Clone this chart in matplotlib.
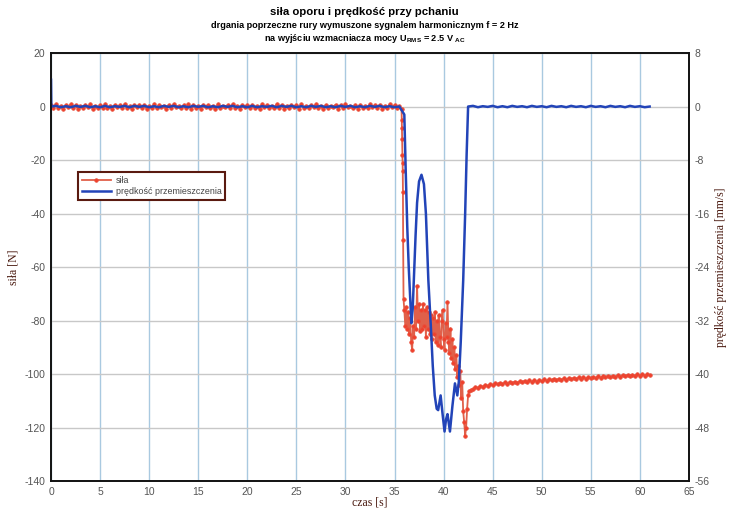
import numpy as np
import matplotlib
matplotlib.use("Agg")
import matplotlib.pyplot as plt

# --- data ---
# sila [N], flat part 0 .. 35.5 s every 0.25 s
sila_flat_t = np.arange(0, 35.75, 0.25)
sila_flat = [0.6, -0.4, 0.9, -0.7, 0.3, -0.8, 0.5, -0.2, 0.8, -0.6, 0.4, -0.9,
             0.2, -0.5, 0.7, -0.3, 0.9, -0.8, 0.1, -0.6, 0.5, -0.4, 0.8, -0.7,
             0.3, -0.9, 0.6, -0.2, 0.4, -0.7, 0.9, -0.5, 0.2, -0.8, 0.6, -0.3,
             0.7, -0.6, 0.4, -0.9, 0.1, -0.4, 0.8, -0.7, 0.5, -0.2, 0.3, -0.8,
             0.6, -0.5, 0.9, -0.3, 0.2, -0.7, 0.4, -0.6, 0.8, -0.9, 0.5, -0.4,
             0.1, -0.8, 0.7, -0.2, 0.6, -0.5, 0.3, -0.9, 0.8, -0.6, 0.2, -0.3,
             0.5, -0.7, 0.9, -0.4, 0.3, -0.8, 0.6, -0.1, 0.4, -0.6, 0.7, -0.5,
             0.2, -0.9, 0.8, -0.3, 0.5, -0.7, 0.1, -0.5, 0.9, -0.4, 0.6, -0.8,
             0.3, -0.6, 0.7, -0.2, 0.4, -0.9, 0.8, -0.5, 0.2, -0.7, 0.5, -0.3,
             0.9, -0.4, 0.1, -0.8, 0.6, -0.6, 0.3, -0.2, 0.7, -0.9, 0.4, -0.5,
             0.8, -0.3, 0.2, -0.7, 0.5, -0.8, 0.6, -0.4, 0.1, -0.6, 0.9, -0.2,
             0.4, -0.5, 0.7, -0.9, 0.3, -0.6, 0.8, -0.3, 0.5, -0.7, 0.2]
# drop and turbulent part
sila_mid_t = [35.72, 35.74, 35.76, 35.78, 35.80, 35.82, 35.84, 35.86, 35.88, 35.92,
              36.0, 36.1, 36.2, 36.3, 36.4, 36.5, 36.6, 36.7, 36.8, 36.9,
              37.0, 37.1, 37.2, 37.3, 37.4, 37.5, 37.6, 37.7, 37.8, 37.9,
              38.0, 38.1, 38.2, 38.3, 38.4, 38.5, 38.6, 38.7, 38.8, 38.9,
              39.0, 39.1, 39.2, 39.3, 39.4, 39.5, 39.6, 39.7, 39.8, 39.9,
              40.0, 40.1, 40.2, 40.3, 40.4, 40.5, 40.6, 40.7, 40.8, 40.9,
              41.0, 41.1, 41.2, 41.3, 41.4, 41.5, 41.6, 41.7, 41.8, 41.9,
              42.0, 42.1, 42.2, 42.3, 42.4, 42.5, 42.6, 42.8]
sila_mid = [-1, -5, -8, -12, -18, -21, -24, -32, -50, -72,
            -76, -82, -75, -83, -77, -85, -79, -88, -91, -82,
            -86, -75, -83, -67, -80, -74, -84, -76, -83, -74,
            -82, -76, -86, -75, -83, -77, -85, -78, -87, -79,
            -85, -77, -88, -80, -89, -78, -86, -90, -80, -76,
            -87, -91, -81, -86, -73, -88, -92, -83, -94, -87,
            -96, -90, -98, -93, -101, -97, -104, -99, -109, -103,
            -114, -118, -123, -120, -113, -108, -106.5, -106]
# slow recovery 43 .. 61 s every 0.25 s
sila_tail_t = np.arange(43, 61.25, 0.25)
sila_tail = [-105.6, -104.9, -105.1, -104.4, -104.7, -104.0, -104.4, -103.7, -104.1, -103.5, -103.9, -103.3,
             -103.8, -103.1, -103.6, -102.9, -103.4, -102.8, -103.3, -102.7, -103.1, -102.5, -103.0, -102.4,
             -102.9, -102.3, -102.8, -102.1, -102.7, -102.0, -102.5, -101.9, -102.4, -101.8, -102.3, -101.7,
             -102.2, -101.6, -102.1, -101.5, -102.0, -101.4, -101.9, -101.3, -101.8, -101.2, -101.7, -101.1,
             -101.6, -101.0, -101.5, -100.9, -101.4, -100.8, -101.3, -100.7, -101.2, -100.6, -101.1, -100.5,
             -101.0, -100.4, -100.9, -100.3, -100.8, -100.2, -100.7, -100.1, -100.6, -100.0, -100.6, -100.1,
             -100.4]

# predkosc [mm/s]
v_flat_t = np.arange(0.5, 36, 0.5)
v_flat = [0.1, -0.1, 0.05, -0.1, 0.1, -0.05, 0.1, -0.1, 0.05, -0.1, 0.1, -0.1,
          0.05, -0.05, 0.1, -0.1, 0.1, -0.05, 0.1, -0.1, 0.05, -0.1, 0.1, -0.05,
          0.1, -0.1, 0.05, -0.1, 0.1, -0.05, 0.1, -0.1, 0.05, -0.1, 0.1, -0.05,
          0.1, -0.1, 0.05, -0.1, 0.1, -0.1, 0.05, -0.05, 0.1, -0.1, 0.1, -0.05,
          0.1, -0.1, 0.05, -0.1, 0.1, -0.05, 0.1, -0.1, 0.05, -0.1, 0.1, -0.05,
          0.1, -0.1, 0.05, -0.1, 0.1, -0.05, 0.1, -0.1, 0.05, -0.1, 0.0]
v_mid_t = [36.0, 36.15, 36.3, 36.45, 36.6, 36.72, 36.85, 37.0, 37.15, 37.3, 37.5,
           37.75, 38.0, 38.2, 38.45, 38.7, 38.9, 39.1, 39.3, 39.45, 39.7, 39.9,
           40.1, 40.25, 40.4, 40.55, 40.65, 40.9, 41.16, 41.4, 41.55, 41.75,
           42.0, 42.2, 42.35, 42.5]
v_mid = [-1.2, -10.0, -18.0, -24.0, -28.8, -32.4, -30.4, -24.8, -19.2, -14.4, -11.2,
         -10.2, -11.6, -16.0, -26.0, -32.8, -38.8, -43.2, -45.2, -45.4, -43.2, -46.0,
         -48.6, -46.8, -46.0, -47.6, -48.6, -44.8, -41.4, -43.2, -41.2, -35.2,
         -26.0, -16.0, -7.2, 0.0]
v_tail_t = np.arange(43, 61.5, 0.5)
v_tail = [0.1, -0.1, 0.05, -0.05, 0.1, -0.1, 0.05, -0.1, 0.1, -0.05, 0.05, -0.1,
          0.1, -0.05, 0.05, -0.1, 0.1, -0.05, 0.05, -0.1, 0.1, -0.05, 0.05, -0.1,
          0.1, -0.05, 0.05, -0.1, 0.1, -0.05, 0.05, -0.1, 0.1, -0.05, 0.05, -0.1, 0.0]

x_ticks = list(range(0, 70, 5))
left_ticks = list(range(20, -160, -20))
right_ticks = list(range(8, -64, -8))

t_sila = np.concatenate([sila_flat_t, sila_mid_t, sila_tail_t])
sila = np.concatenate([sila_flat, sila_mid, sila_tail])
t_v = np.concatenate([[0.0, 0.03], v_flat_t, v_mid_t, v_tail_t])
v = np.concatenate([[4.0, 0.0], v_flat, v_mid, v_tail])

plt.rcParams['font.family'] = ['Liberation Sans', 'DejaVu Sans']
plt.rcParams['mathtext.default'] = 'regular'
plt.rcParams['axes.unicode_minus'] = False

fig = plt.figure(figsize=(7.29, 5.15), dpi=100)
ax1 = fig.add_axes([0.070, 0.066, 0.875, 0.831])
ax2 = ax1.twinx()

red_line, = ax1.plot(t_sila, sila, color='#e0604a', lw=1.3, marker='o', ms=2.6,
                     mfc='#f0402c', mec='#e8503c', mew=0.5, label='siła')
blue_line, = ax2.plot(t_v, v, color='#2244b8', lw=1.8, label='prędkość przemieszczenia')

ax1.set_xlim(0, 65)
ax1.set_ylim(-140, 20)
ax2.set_ylim(-56, 8)
ax1.set_xticks(x_ticks)
ax1.set_yticks(left_ticks)
ax2.set_yticks(right_ticks)

ax1.grid(axis='x', color='#a9c9e0', lw=1.0)
ax1.grid(axis='y', color='#c8c8c8', lw=1.0)
ax1.set_axisbelow(True)

for ax in (ax1, ax2):
    ax.tick_params(length=0, pad=4, colors='#555555', labelsize=7.5)
    for sp in ax.spines.values():
        sp.set_color('#111111')
        sp.set_linewidth(1.2)

lab_kw = dict(family=['Liberation Serif', 'DejaVu Serif'], fontsize=8.5, color='#4a1a10')
ax1.set_xlabel('czas [s]', **lab_kw)
ax1.set_ylabel('siła [N]', **lab_kw)
ax2.set_ylabel('prędkość przemieszczenia [mm/s]', rotation=90, **lab_kw)
ax1.xaxis.set_label_coords(0.5, -0.037)
ax1.yaxis.set_label_coords(-0.05, 0.5)
ax2.yaxis.set_label_coords(1.041, 0.5)

leg = ax1.legend(handles=[red_line, blue_line], loc='upper left',
                 bbox_to_anchor=(0.042, 0.722), fontsize=6.4,
                 handlelength=3.3, fancybox=False, framealpha=1, borderpad=0.45,
                 labelspacing=0.2, handletextpad=0.5, borderaxespad=0)
leg.get_frame().set_edgecolor('#5a1a10')
leg.get_frame().set_linewidth(1.5)
for txt in leg.get_texts():
    txt.set_color('#444444')
leg.set_zorder(10)

fig.text(0.5, 0.976, 'siła oporu i prędkość przy pchaniu', ha='center', va='center',
         fontsize=8.2, fontweight='bold')
fig.text(0.5, 0.950, 'drgania poprzeczne rury wymuszone sygnalem harmonicznym f = 2 Hz',
         ha='center', va='center', fontsize=6.6, fontweight='bold')
fig.text(0.5, 0.925, 'na wyjściu wzmacniacza mocy U$_{RMS}$ = 2.5 V $_{AC}$',
         ha='center', va='center', fontsize=6.6, fontweight='bold')

fig.savefig('out.png', dpi=100)
